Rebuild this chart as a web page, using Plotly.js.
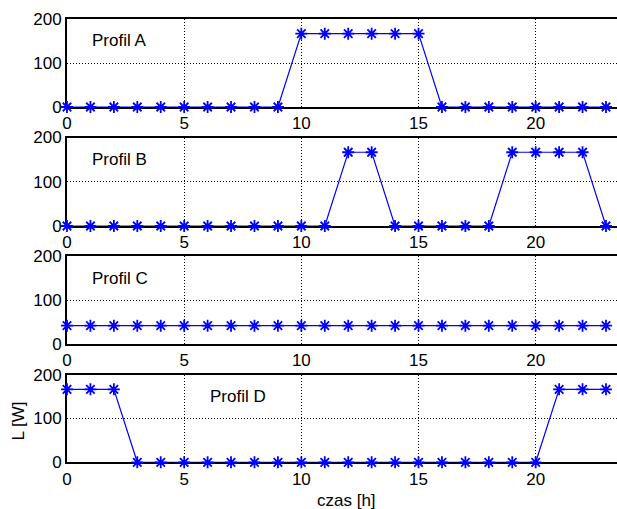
<!DOCTYPE html>
<html>
<head>
<meta charset="utf-8">
<script src="https://cdn.plot.ly/plotly-3.0.1.min.js"></script>
<style>html,body{margin:0;padding:0;background:#fff;overflow:hidden}</style>
</head>
<body>
<div id="chart" style="width:617px;height:509px"></div>
<script>
var hours = [0,1,2,3,4,5,6,7,8,9,10,11,12,13,14,15,16,17,18,19,20,21,22,23];
var profilA = [0,0,0,0,0,0,0,0,0,0,166.7,166.7,166.7,166.7,166.7,166.7,0,0,0,0,0,0,0,0];
var profilB = [0,0,0,0,0,0,0,0,0,0,0,0,166.7,166.7,0,0,0,0,0,166.7,166.7,166.7,166.7,0];
var profilC = [41.7,41.7,41.7,41.7,41.7,41.7,41.7,41.7,41.7,41.7,41.7,41.7,41.7,41.7,41.7,41.7,41.7,41.7,41.7,41.7,41.7,41.7,41.7,41.7];
var profilD = [166.7,166.7,166.7,0,0,0,0,0,0,0,0,0,0,0,0,0,0,0,0,0,0,166.7,166.7,166.7];
var profileNames = ["Profil A","Profil B","Profil C","Profil D"];
var xTicks = [0,5,10,15,20];
var yTicks = [0,100,200];
var xTitle = "czas [h]";
var yTitle = "L [W]";

var series = [profilA, profilB, profilC, profilD];
var H = 509, L = 67, W = 617;
// panel pixel extents (top, bottom)
var pix = [[19,107],[137.5,226],[256,344],[374.7,462.3]];
var labelX = [1,1,1,6];

var font = "Liberation Sans, Arial, sans-serif";
var FS = 17;
var traces = [];
var layout = {
  width:W, height:H,
  margin:{l:L, r:0, t:0, b:0},
  paper_bgcolor:"#fff", plot_bgcolor:"#fff",
  showlegend:false,
  font:{family:font, size:FS, color:"#000"},
  annotations:[]
};
for (var i=0;i<4;i++){
  var sfx = i===0 ? "" : String(i+1);
  traces.push({
    x:hours, y:series[i], xaxis:"x"+sfx, yaxis:"y"+sfx,
    type:"scatter", mode:"lines+markers",
    line:{color:"#0000ff", width:1.2},
    marker:{symbol:"asterisk-open", size:10, color:"#0000ff", line:{color:"#0000ff", width:1.8}},
    cliponaxis:false, hoverinfo:"skip"
  });
  var dom = [(H-pix[i][1])/H, (H-pix[i][0])/H];
  layout["xaxis"+sfx] = {
    domain:[0,1], range:[0,23.47], anchor:"y"+sfx,
    tickvals:xTicks, ticktext:xTicks.map(String), ticks:"",
    showgrid:true, gridcolor:"#000", griddash:"1px,2px", gridwidth:1,
    showline:true, linecolor:"#000", linewidth:2, mirror:true,
    zeroline:false, layer:"below traces",
    tickfont:{family:font, size:FS, color:"#000"}, fixedrange:true
  };
  layout["yaxis"+sfx] = {
    domain:dom, range:[0,200], anchor:"x"+sfx,
    tickvals:yTicks, ticktext:yTicks.map(String), ticks:"",
    showgrid:true, gridcolor:"#000", griddash:"1px,2px", gridwidth:1,
    showline:true, linecolor:"#000", linewidth:2, mirror:false,
    zeroline:false, layer:"below traces",
    tickfont:{family:font, size:FS, color:"#000"}, fixedrange:true
  };
  layout.annotations.push({
    x:labelX[i], y:150, xref:"x"+sfx, yref:"y"+sfx,
    text:profileNames[i], showarrow:false, xanchor:"left", yanchor:"middle",
    font:{family:font, size:FS, color:"#000"}
  });
}
layout.annotations.push({
  x:(346.5-L)/(W-L), y:(H-500)/H, xref:"paper", yref:"paper",
  text:xTitle, showarrow:false, xanchor:"center", yanchor:"middle",
  font:{family:font, size:FS, color:"#000"}
});
layout.annotations.push({
  x:(17.5-L)/(W-L), y:(H-421)/H, xref:"paper", yref:"paper",
  text:yTitle, showarrow:false, textangle:-90, xanchor:"center", yanchor:"middle",
  font:{family:font, size:FS, color:"#000"}
});
Plotly.newPlot("chart", traces, layout, {displayModeBar:false, staticPlot:true});
</script>
</body>
</html>
